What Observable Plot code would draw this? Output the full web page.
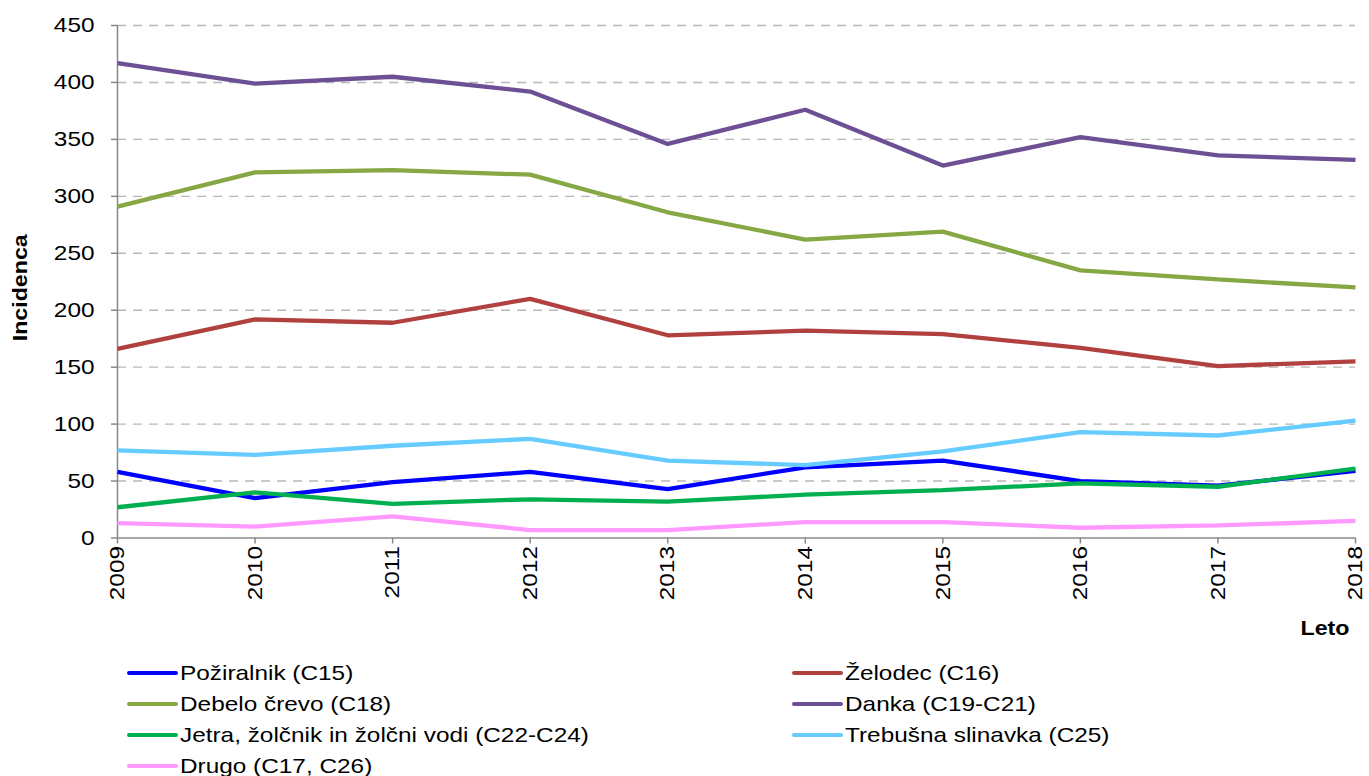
<!DOCTYPE html>
<html>
<head>
<meta charset="utf-8">
<script src="https://cdn.jsdelivr.net/npm/d3@7"></script>
<script src="https://cdn.jsdelivr.net/npm/@observablehq/plot@0.6"></script>
<style>
  html, body { margin: 0; padding: 0; background: #fff; }
  body { width: 1369px; height: 776px; overflow: hidden; font-family: "Liberation Sans", Arial, sans-serif; }
  #chart svg { display: block; }
  #legend { position: relative; display: grid; grid-template-columns: 665px 520px; margin-left: 127px; margin-top: 12px; row-gap: 0; }
  .item { display: flex; align-items: center; height: 31px; font-size: 21px; color: #000; white-space: nowrap; }
  .sw { width: 51px; height: 4px; border-radius: 2px; margin-right: 2px; flex: none; }
  .tx { display: inline-block; transform: scaleX(1.16); transform-origin: left center; }
</style>
</head>
<body>
<div id="chart"></div>
<div id="legend"></div>
<script>
const years = [2009, 2010, 2011, 2012, 2013, 2014, 2015, 2016, 2017, 2018];
const seriesNames = [
  "Požiralnik (C15)",
  "Želodec (C16)",
  "Debelo črevo (C18)",
  "Danka (C19-C21)",
  "Jetra, žolčnik in žolčni vodi (C22-C24)",
  "Trebušna slinavka (C25)",
  "Drugo (C17, C26)"
];
const seriesColors = ["#0000FF", "#B0413E", "#86A844", "#6D4F94", "#00B050", "#66CCFF", "#FF99FF"];

const pozinalnik = [58, 35, 49, 58, 43, 62, 68, 50, 46, 59];
const zelodec    = [166, 192, 189, 210, 178, 182, 179, 167, 151, 155];
const debelo     = [291, 321, 323, 319, 286, 262, 269, 235, 227, 220];
const danka      = [417, 399, 405, 392, 346, 376, 327, 352, 336, 332];
const jetra      = [27, 40, 30, 34, 32, 38, 42, 48, 45, 61];
const trebusna   = [77, 73, 81, 87, 68, 64, 76, 93, 90, 103];
const drugo      = [13, 10, 19, 7, 7, 14, 14, 9, 11, 15];

const yTicks = [0, 50, 100, 150, 200, 250, 300, 350, 400, 450];

const seriesValues = [pozinalnik, zelodec, debelo, danka, jetra, trebusna, drugo];
const data = [];
seriesNames.forEach((name, i) => {
  years.forEach((yr, j) => data.push({series: name, year: yr, value: seriesValues[i][j]}));
});

const chart = Plot.plot({
  width: 1369,
  height: 645,
  marginLeft: 117,
  marginRight: 14,
  marginTop: 25,
  marginBottom: 107.5,
  style: {fontFamily: "'Liberation Sans', Arial, sans-serif", fontSize: "21px", color: "#000", background: "#fff"},
  x: {domain: [2009, 2018]},
  y: {domain: [0, 450]},
  color: {domain: seriesNames, range: seriesColors},
  marks: [
    Plot.gridY(yTicks.filter(d => d > 0), {stroke: "#b8b8b8", strokeOpacity: 1, strokeWidth: 1.4, strokeDasharray: "9,7"}),
    Plot.axisY(yTicks, {tickSize: 6, tickPadding: 17, label: null, stroke: "#888", strokeWidth: 1.5, fill: "#000"}),
    Plot.axisX(years, {tickSize: 6, tickPadding: 2, tickRotate: -90, label: null, tickFormat: d => String(d), stroke: "#888", strokeWidth: 1.5, fill: "#000"}),
    Plot.ruleX([2009], {stroke: "#888", strokeWidth: 1.5}),
    Plot.ruleY([0], {stroke: "#888", strokeWidth: 1.5}),
    Plot.line(data, {x: "year", y: "value", z: "series", stroke: "series", strokeWidth: 4.3, strokeLinejoin: "miter", strokeLinecap: "butt"}),
    Plot.text(["Incidenca"], {frameAnchor: "left", text: d => d, textAnchor: "middle", rotate: -90, dx: -97, dy: 6, fontWeight: "bold", fontSize: 20, fill: "#000"}),
    Plot.text(["Leto"], {frameAnchor: "bottom-right", text: d => d, textAnchor: "end", dx: -6, dy: 97, fontWeight: "bold", fontSize: 20, fill: "#000"})
  ]
});
document.getElementById("chart").appendChild(chart);

// Widen all text horizontally along its direction (reference glyphs are stretched)
chart.querySelectorAll("text").forEach(t => {
  const len = t.getComputedTextLength();
  if (len > 0) {
    t.setAttribute("textLength", (len * 1.16).toFixed(1));
    t.setAttribute("lengthAdjust", "spacingAndGlyphs");
  }
});

// Legend: left column items 0,2,4,6 ; right column 1,3,5
const legend = document.getElementById("legend");
seriesNames.forEach((name, i) => {
  const it = document.createElement("div");
  it.className = "item";
  const sw = document.createElement("span");
  sw.className = "sw";
  sw.style.background = seriesColors[i];
  const tx = document.createElement("span");
  tx.className = "tx";
  tx.textContent = name;
  it.appendChild(sw);
  it.appendChild(tx);
  legend.appendChild(it);
});
</script>
</body>
</html>
